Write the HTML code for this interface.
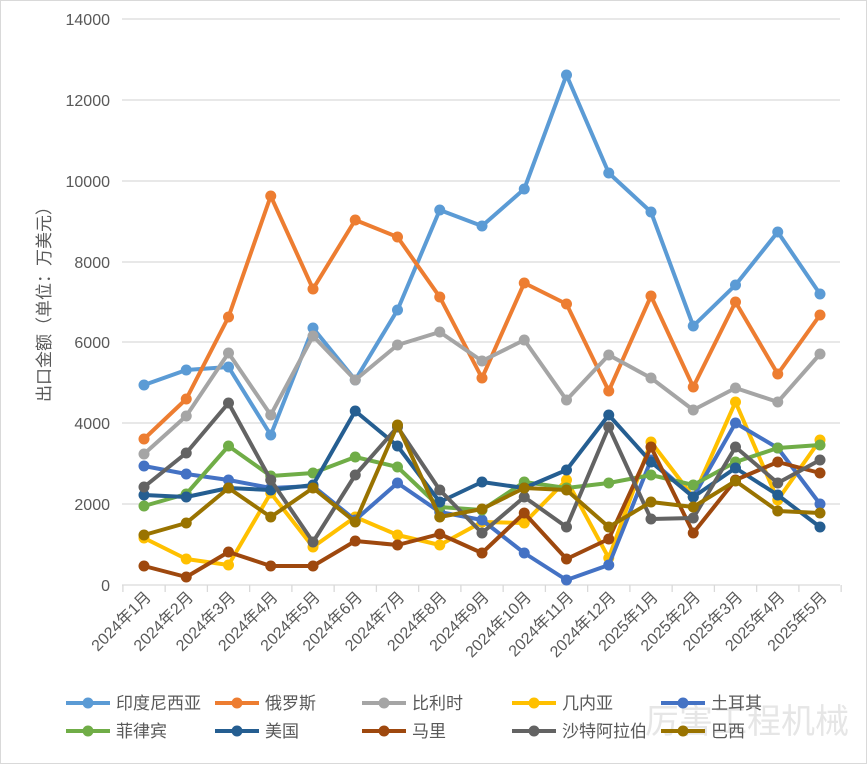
<!DOCTYPE html>
<html><head><meta charset="utf-8"><style>
html,body{margin:0;padding:0;background:#fff;}
svg{display:block;font-family:"Liberation Sans","Noto Sans CJK SC",sans-serif;}
</style></head><body>
<svg width="867" height="764" viewBox="0 0 867 764" xmlns="http://www.w3.org/2000/svg">
<rect x="0.5" y="0.5" width="866" height="763" fill="#fff" stroke="#d9d9d9"/>
<g stroke="#d9d9d9" stroke-width="1.3">
<line x1="122" y1="19" x2="840" y2="19"/><line x1="122" y1="100" x2="840" y2="100"/>
<line x1="122" y1="181" x2="840" y2="181"/><line x1="122" y1="262" x2="840" y2="262"/>
<line x1="122" y1="342" x2="840" y2="342"/><line x1="122" y1="423" x2="840" y2="423"/>
<line x1="122" y1="504" x2="840" y2="504"/><line x1="122" y1="585" x2="840" y2="585"/>
</g>
<g stroke="#d9d9d9" stroke-width="1.3" id="ticks"></g>
<g font-size="16" fill="#595959" text-anchor="end">
<text x="110" y="25">14000</text><text x="110" y="106">12000</text><text x="110" y="187">10000</text>
<text x="110" y="268">8000</text><text x="110" y="348">6000</text><text x="110" y="429">4000</text>
<text x="110" y="510">2000</text><text x="110" y="591">0</text>
</g>
<text transform="translate(50,300) rotate(-90)" font-size="17" fill="#595959" text-anchor="middle">出口金额（单位：万美元）</text>
<g id="xl" font-size="16" fill="#595959" text-anchor="end"></g>
<g id="series" stroke-width="4" fill="none" stroke-linejoin="round"></g>
<text x="645" y="733" font-size="34" fill="#e6e6e6">厉害工程机械</text>
<g id="legend" font-size="17" fill="#595959"></g>
<script>
var NS="http://www.w3.org/2000/svg";
function el(t,a,p){var e=document.createElementNS(NS,t);for(var k in a)e.setAttribute(k,a[k]);p.appendChild(e);return e;}
var X=function(i){return 144+42.25*i;};
var tk=document.getElementById('ticks');
for(var i=0;i<=17;i++){var x=122.9+42.25*i;el('line',{x1:x,y1:585,x2:x,y2:592},tk);}
var months=['2024年1月','2024年2月','2024年3月','2024年4月','2024年5月','2024年6月','2024年7月','2024年8月','2024年9月','2024年10月','2024年11月','2024年12月','2025年1月','2025年2月','2025年3月','2025年4月','2025年5月'];
var xl=document.getElementById('xl');
months.forEach(function(m,i){var t=el('text',{transform:'translate('+(X(i)+8)+',598) rotate(-45)'},xl);t.textContent=m;});
var S=[
['印度尼西亚','#5B9BD5',[385,370,367,435,328,380,310,210,226,189,75,173,212,326,285,232,294]],
['俄罗斯','#ED7D31',[439,399,317,196,289,220,237,297,378,283,304,391,296,387,302,374,315]],
['比利时','#A5A5A5',[454,416,353,415,336,380,345,332,361,340,400,355,378,410,388,402,354]],
['几内亚','#FFC000',[538,559,565,493,547,517,535,545,522,523,480,558,442,497,402,500,440]],
['土耳其','#4472C4',[466,474,480,488,486,520,483,512,520,553,580,565,460,497,423,448,504]],
['菲律宾','#70AD47',[506,494,446,476,473,457,467,507,510,482,488,483,475,485,462,448,445]],
['美国','#255E91',[495,497,488,490,485,411,446,502,482,488,470,415,462,497,468,495,527]],
['马里','#9E480E',[566,577,552,566,566,541,545,534,553,513,559,539,447,533,480,462,473]],
['沙特阿拉伯','#636363',[487,453,403,480,542,475,427,490,533,497,527,427,519,518,447,483,460]],
['巴西','#997300',[535,523,488,517,488,522,425,517,509,488,490,527,502,507,481,511,513]]
];
var sg=document.getElementById('series');
S.forEach(function(s){
 var pts=s[2].map(function(y,i){return X(i)+','+y;}).join(' ');
 el('polyline',{points:pts,stroke:s[1]},sg);
 s[2].forEach(function(y,i){el('circle',{cx:X(i),cy:y,r:5.5,fill:s[1],stroke:'none'},sg);});
});
var lg=document.getElementById('legend');
var cols=[66,215,362,512,661];
S.forEach(function(s,i){
 var c=cols[i%5],y=i<5?703:731;
 el('line',{x1:c,y1:y,x2:c+44,y2:y,stroke:s[1],'stroke-width':4},lg);
 el('circle',{cx:c+22,cy:y,r:5.5,fill:s[1]},lg);
 var t=el('text',{x:c+50,y:y+6},lg);t.textContent=s[0];
});
</script>
</svg>
</body></html>
